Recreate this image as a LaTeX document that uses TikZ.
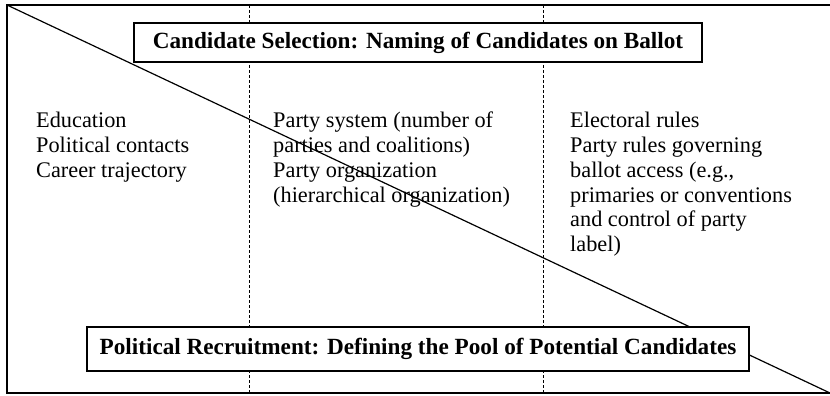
\documentclass[tikz,border=0pt]{standalone}
\usepackage{fontspec}
\setmainfont{Liberation Serif}
\begin{document}
\begin{tikzpicture}[x=1pt,y=-1pt,
  frameline/.style={line width=2pt,line cap=rect},
  divider/.style={line width=0.9pt,dash pattern=on 3pt off 2pt},
  slash/.style={line width=1.2pt},
  titlebox/.style={draw,line width=1.2pt,fill=white,inner sep=0pt,
    font=\fontsize{23.2}{27}\selectfont\bfseries},
  factors/.style={anchor=north west,inner sep=0pt,align=left,
    font=\fontsize{22.3}{24.8}\selectfont}]
  \useasboundingbox (0,0) rectangle (830,396);
  % corner points of the frame
  \coordinate (tl) at (7,5);
  \coordinate (tr) at (830,5);
  \coordinate (bl) at (7,393);
  \coordinate (br) at (830,393);
  % column dividers
  \coordinate (d1t) at (249,5);
  \coordinate (d1b) at (249,393);
  \coordinate (d2t) at (543,5);
  \coordinate (d2b) at (543,393);
  \draw[divider] (d1t) -- (d1b);
  \draw[divider] (d2t) -- (d2b);
  % factor lists
  \node[factors] (indiv) at (36,112) {Education\\Political contacts\\Career trajectory};
  \node[factors] (party) at (273,112) {Party system (number of\\parties and coalitions)\\Party organization\\(hierarchical organization)};
  \node[factors] (rules) at (570,112) {Electoral rules\\Party rules governing\\ballot access (e.g.,\\primaries or conventions\\and control of party\\label)};
  % diagonal from the top-left corner to the bottom-right corner
  \draw[slash] (tl) -- (br);
  % stage boxes
  \node[titlebox,minimum width=568pt,minimum height=39pt] (select) at (418,42.5)
    {Candidate Selection: Naming of Candidates on Ballot};
  \node[titlebox,minimum width=662pt,minimum height=44pt] (recruit) at (418,349)
    {Political Recruitment: Defining the Pool of Potential Candidates};
  % outer frame, open on the right
  \draw[frameline] (tr) -- (tl) -- (bl) -- (br);
\end{tikzpicture}
\end{document}
